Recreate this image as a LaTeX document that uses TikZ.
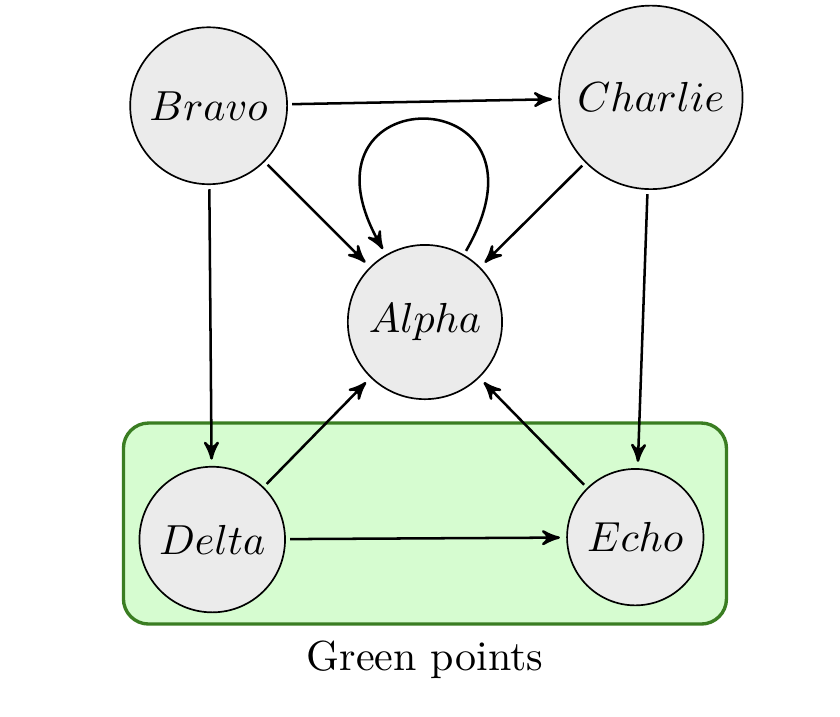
\documentclass[tikz,border=0pt]{standalone}
\usepackage{xcolor}
\usepackage{tikz}
\usetikzlibrary{shapes}
\usetikzlibrary{arrows}
\definecolor{nodegray}{RGB}{235,235,235}
\definecolor{groupfill}{RGB}{214,252,208}
\definecolor{groupline}{RGB}{58,125,34}
\tikzset{
  main node/.style={circle,draw,thin,fill=nodegray},
  group box/.style={draw=groupline,fill=groupfill,thick,rounded corners=6pt}
}

\begin{document}
\begin{tikzpicture}[->,>=stealth',semithick,shorten >=1.5pt,shorten <=1pt]
        \useasboundingbox (-3.556,-3.297) rectangle (3.473,2.695);
        \node [group box,minimum width=5.046cm,minimum height=1.682cm,
               label={below:Green points}] (green) at (0,-1.686) {};
        \node [main node] (alpha) at (0,0) {$Alpha$};
        \node [main node] (bravo) at (-1.81,1.81) {$Bravo$};
        \node [main node] (charlie) at (1.89,1.88) {$Charlie$};
        \node [main node] (delta) at (-1.78,-1.82) {$Delta$};
        \node [main node] (echo) at (1.76,-1.80) {$Echo$};
        \draw (bravo) -- (charlie);
        \draw (bravo) -- (alpha);
        \draw (charlie) -- (alpha);
        \draw (bravo) -- (delta);
        \draw (charlie) -- (echo);
        \draw (delta) -- (alpha);
        \draw (echo) -- (alpha);
        \draw (delta) -- (echo);
        \draw (alpha) to [out=60,in=120,looseness=6.8] (alpha);
      \end{tikzpicture}
\end{document}
